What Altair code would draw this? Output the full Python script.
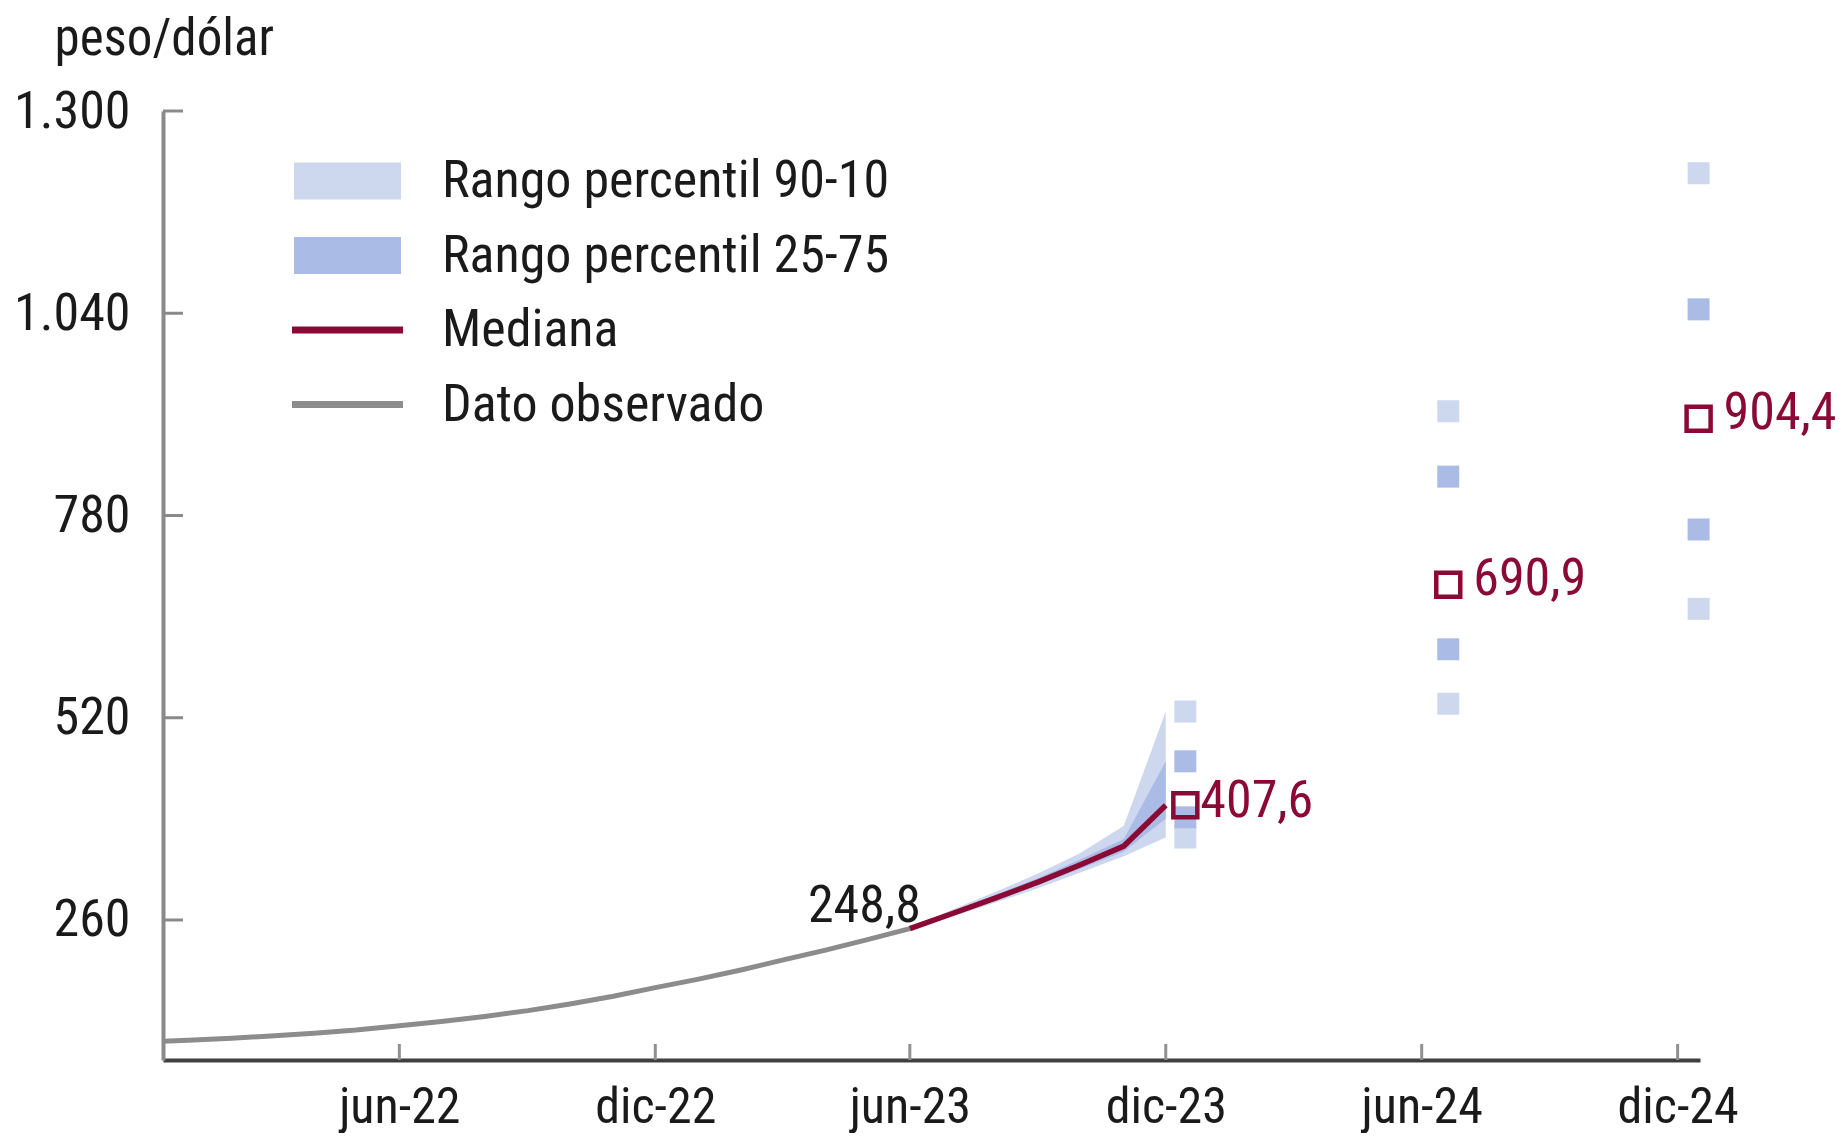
import altair as alt
import pandas as pd

FONT = "Liberation Sans Narrow, Arial Narrow, Roboto Condensed, sans-serif"
FS = 52
LIGHT = "#CDD8EF"
DARK = "#AABCE5"
RED = "#8A0A35"
GRAY = "#8C8C8C"
BLACK = "#1A1A1A"

# ---- data ----
obs_dates = ["2021-12-14", "2022-01-01", "2022-02-01", "2022-03-01", "2022-04-01",
             "2022-05-01", "2022-06-01", "2022-07-01", "2022-08-01", "2022-09-01",
             "2022-10-01", "2022-11-01", "2022-12-01", "2023-01-01", "2023-02-01",
             "2023-03-01", "2023-04-01", "2023-05-01", "2023-06-01"]
obs_values = [104, 105.5, 108, 111, 114.5, 118.5, 124, 129.5, 136, 143.5,
              152, 162, 173, 184, 196, 208, 221, 234.5, 248.8]

fc_dates = ["2023-06-01", "2023-07-01", "2023-08-01", "2023-09-01",
            "2023-10-01", "2023-11-01", "2023-12-01"]
fc_p10 = [248.8, 264, 282, 301, 321, 342, 366]
fc_p25 = [248.8, 266, 285, 305, 326, 348, 390]
fc_p50 = [248.8, 268, 288, 309, 331, 355, 407.6]
fc_p75 = [248.8, 270, 292, 314, 338, 364, 464]
fc_p90 = [248.8, 273, 296, 320, 346, 381, 528]

sq_dates = ["2023-12-15", "2024-06-20", "2024-12-16"]
sq_p10 = [366, 538, 660]
sq_p25 = [392, 608, 762]
sq_p50 = [407.6, 690.9, 904.4]
sq_p75 = [464, 830, 1045]
sq_p90 = [528, 914, 1220]
sq_labels = ["407,6", "690,9", "904,4"]

y_ticks = [260, 520, 780, 1040, 1300]
x_ticks = ["2022-06-01", "2022-12-01", "2023-06-01", "2023-12-01", "2024-06-01", "2024-12-01"]

legend_labels = ["Rango percentil 90-10", "Rango percentil 25-75", "Mediana", "Dato observado"]
legend_colors = [LIGHT, DARK, RED, GRAY]
legend_shapes = ["M-1.783,-0.617H1.783V0.617H-1.783Z",
                 "M-1.783,-0.617H1.783V0.617H-1.783Z",
                 "M-1.85,-0.117H1.85V0.117H-1.85Z",
                 "M-1.85,-0.117H1.85V0.117H-1.85Z"]

# ---- tables ----
obs_df = pd.DataFrame({"date": obs_dates, "v": obs_values})
fc_df = pd.DataFrame({"date": fc_dates, "p10": fc_p10, "p25": fc_p25, "v": fc_p50,
                      "p75": fc_p75, "p90": fc_p90})
sq_light = pd.DataFrame({"date": sq_dates * 2, "v": sq_p90 + sq_p10})
sq_dark = pd.DataFrame({"date": sq_dates * 2, "v": sq_p75 + sq_p25})
sq_med = pd.DataFrame({"date": sq_dates, "v": sq_p50, "label": sq_labels})
ytick_df = pd.DataFrame({"v": y_ticks})
xtick_df = pd.DataFrame({"date": x_ticks})
obs_lab = pd.DataFrame({"date": [obs_dates[-1]], "v": [obs_values[-1]], "label": ["248,8"]})
leg_df = pd.DataFrame({"date": ["2020-01-01"] * 4, "v": [500] * 4, "serie": legend_labels})

W, H = 1537, 949

xscale = alt.Scale(type="utc", domain=[alt.DateTime(year=2021, month=12, date=14, utc=True),
                                       alt.DateTime(year=2024, month=12, date=17, utc=True)])
xaxis = alt.Axis(
    values=[alt.DateTime(year=int(d[:4]), month=int(d[5:7]), date=1, utc=True) for d in x_ticks],
    labelExpr="(utcmonth(datum.value)==5 ? 'jun-' : 'dic-') + utcFormat(datum.value, '%y')",
    ticks=False, tickSize=0, grid=False, domainColor="#404040", domainWidth=4,
    labelFont=FONT, labelFontSize=50, labelColor=BLACK, labelPadding=22,
    labelFlush=False, labelOverlap=False, labelBound=False, title=None)
X = alt.X("date:T", scale=xscale, axis=xaxis)

yscale = alt.Scale(domain=[80, 1300], nice=False, zero=False)
yaxis = alt.Axis(
    values=y_ticks, labelExpr="replace(format(datum.value, ','), ',', '.')",
    ticks=False, tickSize=0, grid=False, domainColor="#8A8A8A", domainWidth=4,
    labelFont=FONT, labelFontSize=FS, labelColor=BLACK, labelPadding=33, labelFlush=False,
    title="peso/dólar", titleAngle=0, titleAlign="left", titleBaseline="alphabetic",
    titleX=-109, titleY=-57, titleFont=FONT, titleFontSize=51, titleFontWeight="normal",
    titleColor=BLACK)


def Y(field):
    return alt.Y(field, scale=yscale, axis=yaxis)


band90 = alt.Chart(fc_df).mark_area(color=LIGHT, opacity=1).encode(x=X, y=Y("p10:Q"), y2="p90:Q")
band50 = alt.Chart(fc_df).mark_area(color=DARK, opacity=1).encode(x=X, y=Y("p25:Q"), y2="p75:Q")
obs_line = alt.Chart(obs_df).mark_line(color=GRAY, strokeWidth=5).encode(x=X, y=Y("v:Q"))
med_line = alt.Chart(fc_df).mark_line(color=RED, strokeWidth=5.5).encode(x=X, y=Y("v:Q"))

sq1 = alt.Chart(sq_light).mark_square(color=LIGHT, size=484, opacity=1, filled=True).encode(x=X, y=Y("v:Q"))
sq2 = alt.Chart(sq_dark).mark_square(color=DARK, size=484, opacity=1, filled=True).encode(x=X, y=Y("v:Q"))
sq3 = alt.Chart(sq_med).mark_square(color=RED, size=576, opacity=1, filled=False,
                                     strokeWidth=4.5).encode(x=X, y=Y("v:Q"))

yt = alt.Chart(ytick_df).mark_rule(color="#8A8A8A", strokeWidth=3).encode(
    y=Y("v:Q"), x=alt.value(0), x2=alt.value(20))
xt = alt.Chart(xtick_df).mark_rule(color="#909090", strokeWidth=3).encode(
    x=X, y=alt.value(H - 16), y2=alt.value(H))

lab_obs = alt.Chart(obs_lab).mark_text(align="right", baseline="alphabetic", dx=11, dy=-7,
                                        font=FONT, fontSize=FS, color=BLACK).encode(
    x=X, y=Y("v:Q"), text="label:N")
lab_dec = alt.Chart(sq_med.iloc[:1]).mark_text(align="left", baseline="middle", dx=15, dy=-4,
                                               font=FONT, fontSize=FS, color=RED).encode(
    x=X, y=Y("v:Q"), text="label:N")
lab_fut = alt.Chart(sq_med.iloc[1:]).mark_text(align="left", baseline="middle", dx=25, dy=-6,
                                               font=FONT, fontSize=FS, color=RED).encode(
    x=X, y=Y("v:Q"), text="label:N")

leg = alt.Legend(orient="none", legendX=154.5, legendY=40, title=None, symbolSize=3600,
                 labelOffset=64.5, rowPadding=18.5, labelFont=FONT, labelFontSize=FS,
                 labelColor=BLACK, symbolStrokeWidth=0, symbolOpacity=1, padding=0,
                 labelLimit=2000)
legend_layer = alt.Chart(leg_df).mark_point(filled=True, opacity=1, clip=True).encode(
    x=X, y=Y("v:Q"),
    color=alt.Color("serie:N", scale=alt.Scale(domain=legend_labels, range=legend_colors), legend=leg),
    shape=alt.Shape("serie:N", scale=alt.Scale(domain=legend_labels, range=legend_shapes), legend=leg))

chart = alt.layer(band90, band50, obs_line, med_line, sq1, sq2, sq3, yt, xt,
                  lab_obs, lab_dec, lab_fut, legend_layer).properties(
    width=W, height=H,
    autosize=alt.AutoSizeParams(type="none"),
    padding={"left": 155, "top": 103, "right": 137, "bottom": 73},
    background="white",
).configure_view(stroke=None)

chart.save("out.html", embed_options={"renderer": "svg", "actions": False})
